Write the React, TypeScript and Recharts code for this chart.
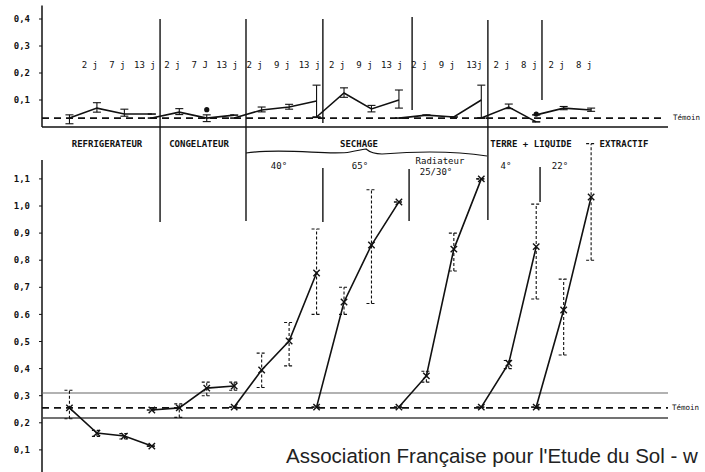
import { ComposedChart, Line, XAxis, YAxis, ReferenceLine, ErrorBar, Scatter } from 'recharts'

// measurement slot of each point (one slot = one sampling date)
const refSlots = [0, 1, 2, 3]
const congSlots = [3, 4, 5, 6]
const dry40Slots = [6, 7, 8, 9]
const dry65Slots = [9, 10, 11, 12]
const radSlots = [12, 13, 14, 15]
const liq4Slots = [15, 16, 17]
const liq22Slots = [17, 18, 19]

// upper panel values
const topRef = [0.033, 0.07, 0.048, 0.048]
const topCong = [0.033, 0.055, 0.033, 0.044]
const top40 = [0.033, 0.063, 0.074, 0.096]
const top65 = [0.037, 0.126, 0.067, 0.1]
const topRad = [0.033, 0.044, 0.037, 0.1]
const top4 = [0.033, 0.074, 0.019]
const top22 = [0.045, 0.07, 0.063]

// upper panel whiskers [low, high]
const topRefBars = [[0.012, 0.045], [0.055, 0.09], [0.04, 0.066], null]
const topCongBars = [null, [0.046, 0.068], [0.02, 0.045], null]
const top40Bars = [null, [0.056, 0.074], [0.066, 0.084], [0.035, 0.155]]
const top65Bars = [null, [0.11, 0.145], [0.056, 0.08], [0.07, 0.137]]
const topRadBars = [null, null, null, [0.033, 0.155]]
const top4Bars = [null, [0.068, 0.085], null]
const top22Bars = [null, [0.064, 0.076], [0.058, 0.07]]

// isolated circled points in upper panel
const topCircles = [{ x: 5, y: 0.064 }, { x: 17, y: 0.048 }]

// lower panel values
const botRef = [0.255, 0.162, 0.151, 0.114]
const botCong = [0.247, 0.255, 0.328, 0.336]
const bot40 = [0.258, 0.395, 0.502, 0.753]
const bot65 = [0.258, 0.646, 0.856, 1.015]
const botRad = [0.258, 0.373, 0.841, 1.1]
const bot4 = [0.258, 0.42, 0.85]
const bot22 = [0.258, 0.616, 1.033]

const botRefBars = [[0.215, 0.32], [0.15, 0.172], [0.14, 0.16], null]
const botCongBars = [null, [0.22, 0.27], [0.3, 0.35], [0.32, 0.35]]
const bot40Bars = [null, [0.33, 0.457], [0.41, 0.57], [0.6, 0.915]]
const bot65Bars = [null, [0.6, 0.7], [0.64, 1.06], null]
const botRadBars = [null, [0.35, 0.39], [0.76, 0.9], null]
const bot4Bars = [null, [0.4, 0.43], [0.657, 1.007]]
const bot22Bars = [null, [0.45, 0.73], [0.8, 1.23]]

const topTicks = [0.1, 0.2, 0.3, 0.4]
const botTicks = [0.1, 0.2, 0.3, 0.4, 0.5, 0.6, 0.7, 0.8, 0.9, 1.0, 1.1]

const dayLabels = ['2 j', '7 j', '13 j', '2 j', '7 J', '13 j', '2 j', '9 j', '13 j', '2 j', '9 j', '13 j', '2 j', '9 j', '13j', '2 j', '8 j', '2 j', '8 j']

// control band (lower panel)
const temoinTop = 0.033
const temoinBot = 0.255
const bandHigh = 0.31
const bandLow = 0.218

// separators between treatments [slot, yFrom, yTo] in upper-panel units
const dividers = [
  [3.3, 0.4, -0.352],
  [6.43, 0.4, -0.348],
  [9.23, 0.4, 0.015],
  [9.23, -0.152, -0.352],
  [12.48, 0.407, 0.063],
  [12.37, -0.156, -0.348],
  [15.24, 0.396, -0.344],
  [17.21, 0.396, 0.1],
  [17.14, -0.148, -0.278],
]

const makeSeries = (slots: number[], vals: number[], bars: (number[] | null)[]) =>
  slots.map((x, i) => {
    const b = bars[i]
    return { x, y: vals[i], err: b ? [vals[i] - b[0], b[1] - vals[i]] : [0, 0] }
  })

const topSeries = [
  makeSeries(refSlots, topRef, topRefBars),
  makeSeries(congSlots, topCong, topCongBars),
  makeSeries(dry40Slots, top40, top40Bars),
  makeSeries(dry65Slots, top65, top65Bars),
  makeSeries(radSlots, topRad, topRadBars),
  makeSeries(liq4Slots, top4, top4Bars),
  makeSeries(liq22Slots, top22, top22Bars),
]

const botSeries = [
  makeSeries(refSlots, botRef, botRefBars),
  makeSeries(congSlots, botCong, botCongBars),
  makeSeries(dry40Slots, bot40, bot40Bars),
  makeSeries(dry65Slots, bot65, bot65Bars),
  makeSeries(radSlots, botRad, botRadBars),
  makeSeries(liq4Slots, bot4, bot4Bars),
  makeSeries(liq22Slots, bot22, bot22Bars),
]

const INK = '#111'
const MONO = "'DejaVu Sans Mono', monospace"
const X_DOMAIN: [number, number] = [-1, 21.8]

// slot -> page x, same scale as the charts (for text only)
const px = (slot: number) => 42 + (slot + 1) * (626 / 22.8)

const frTick = (v: number) => (v === 0.6 ? '0.6' : v.toFixed(1).replace('.', ','))

const CrossDot = (p: any) => {
  const { cx, cy, index } = p
  if (cx == null || cy == null) return <g key={`n-${index}`} />
  const s = 3.2
  return (
    <g key={`c-${index}`}>
      <line x1={cx - s} y1={cy - s} x2={cx + s} y2={cy + s} stroke={INK} strokeWidth={1.4} />
      <line x1={cx - s} y1={cy + s} x2={cx + s} y2={cy - s} stroke={INK} strokeWidth={1.4} />
    </g>
  )
}

const Txt = ({ x, y, size = 9, children, family = MONO, weight = 'bold' }: any) => (
  <div
    style={{
      position: 'absolute',
      left: x,
      top: y,
      transform: 'translate(-50%, -50%)',
      fontSize: size,
      lineHeight: 1,
      fontFamily: family,
      fontWeight: weight,
      color: INK,
      whiteSpace: 'nowrap',
    }}
  >
    {children}
  </div>
)

const tickStyle = { fontSize: 9, fontFamily: MONO, fontWeight: 'bold', fill: INK }

export default function App() {
  return (
    <div
      style={{
        position: 'absolute',
        left: 0,
        top: 0,
        width: 705,
        height: 472,
        overflow: 'hidden',
        background: '#fff',
      }}
    >
      {/* lower panel */}
      <div style={{ position: 'absolute', left: 0, top: 0 }}>
        <ComposedChart width={705} height={480} margin={{ top: 124.7, right: 37, bottom: 3, left: 0 }}>
          <XAxis type="number" dataKey="x" domain={X_DOMAIN} allowDataOverflow hide />
          <YAxis
            type="number"
            dataKey="y"
            width={42}
            domain={[0, 1.3]}
            allowDataOverflow
            ticks={botTicks}
            tickFormatter={frTick}
            axisLine={false}
            tickLine={{ stroke: INK }}
            tickSize={3}
            tickMargin={9}
            tick={tickStyle}
          />
          <ReferenceLine segment={[{ x: -1, y: 0 }, { x: -1, y: 1.17 }]} stroke={INK} strokeWidth={1.5} ifOverflow="visible" />
          <ReferenceLine segment={[{ x: -1, y: bandHigh }, { x: 21.8, y: bandHigh }]} stroke="#666" strokeWidth={1.2} ifOverflow="visible" />
          <ReferenceLine segment={[{ x: -1, y: bandLow }, { x: 21.8, y: bandLow }]} stroke="#444" strokeWidth={1.5} ifOverflow="visible" />
          <ReferenceLine segment={[{ x: -1, y: temoinBot }, { x: 21.8, y: temoinBot }]} stroke={INK} strokeWidth={1.7} strokeDasharray="7 5" ifOverflow="visible" />
          {botSeries.map((d, i) => (
            <Line
              key={`b${i}`}
              data={d}
              dataKey="y"
              type="linear"
              stroke={INK}
              strokeWidth={1.6}
              dot={CrossDot}
              activeDot={false}
              isAnimationActive={false}
            >
              <ErrorBar dataKey="err" direction="y" width={5} stroke={INK} strokeWidth={1.1} strokeDasharray="3 2" />
            </Line>
          ))}
        </ComposedChart>
      </div>

      {/* upper panel */}
      <div style={{ position: 'absolute', left: 0, top: 0 }}>
        <ComposedChart width={705} height={240} margin={{ top: 5.5, right: 37, bottom: 10.4, left: 0 }}>
          <XAxis type="number" dataKey="x" domain={X_DOMAIN} allowDataOverflow hide />
          <YAxis
            type="number"
            dataKey="y"
            width={42}
            domain={[-0.38, 0.45]}
            allowDataOverflow
            ticks={topTicks}
            tickFormatter={frTick}
            axisLine={false}
            tickLine={{ stroke: INK }}
            tickSize={3}
            tickMargin={9}
            tick={tickStyle}
          />
          <ReferenceLine segment={[{ x: -1, y: 0 }, { x: -1, y: 0.45 }]} stroke={INK} strokeWidth={1.5} ifOverflow="visible" />
          <ReferenceLine segment={[{ x: -1, y: 0 }, { x: 21.8, y: 0 }]} stroke={INK} strokeWidth={1.6} ifOverflow="visible" />
          <ReferenceLine segment={[{ x: -1, y: temoinTop }, { x: 21.7, y: temoinTop }]} stroke={INK} strokeWidth={1.6} strokeDasharray="7 5" ifOverflow="visible" />
          {dividers.map(([x, y1, y2], i) => (
            <ReferenceLine key={`d${i}`} segment={[{ x, y: y1 }, { x, y: y2 }]} stroke={INK} strokeWidth={1.4} ifOverflow="visible" />
          ))}
          {topSeries.map((d, i) => (
            <Line
              key={`t${i}`}
              data={d}
              dataKey="y"
              type="linear"
              stroke={INK}
              strokeWidth={1.6}
              dot={false}
              activeDot={false}
              isAnimationActive={false}
            >
              <ErrorBar dataKey="err" direction="y" width={4} stroke={INK} strokeWidth={1.1} />
            </Line>
          ))}
          <Scatter
            data={topCircles}
            dataKey="y"
            isAnimationActive={false}
            shape={(p: any) => <circle cx={p.cx} cy={p.cy} r={2.6} fill={INK} />}
          />
        </ComposedChart>
      </div>

      {/* sampling days */}
      {dayLabels.map((t, i) => (
        <Txt key={`l${i}`} x={px(i + 1) - 7} y={65} size={9} weight="normal">
          {t}
        </Txt>
      ))}

      {/* treatment band */}
      <Txt x={107} y={144}>REFRIGERATEUR</Txt>
      <Txt x={199} y={144}>CONGELATEUR</Txt>
      <Txt x={359} y={144}>SECHAGE</Txt>
      <Txt x={531} y={144}>TERRE + LIQUIDE</Txt>
      <Txt x={624} y={144}>EXTRACTIF</Txt>
      <svg style={{ position: 'absolute', left: 0, top: 0 }} width={705} height={200}>
        <path
          d="M246 153 C 285 147, 330 156, 350 152 Q 360 150, 366 149 Q 372 154, 382 154 C 420 151, 455 151, 487 156"
          fill="none"
          stroke={INK}
          strokeWidth={1.2}
        />
      </svg>
      <Txt x={279} y={166} weight="normal">40°</Txt>
      <Txt x={360} y={166} weight="normal">65°</Txt>
      <Txt x={440} y={161} weight="normal">Radiateur</Txt>
      <Txt x={436} y={172} weight="normal">25/30°</Txt>
      <Txt x={506} y={166} weight="normal">4°</Txt>
      <Txt x={560} y={166} weight="normal">22°</Txt>

      <div style={{ position: 'absolute', left: 673, top: 114, fontSize: 7.5, fontFamily: MONO, color: INK, whiteSpace: 'nowrap', lineHeight: 1 }}>
        Témoin
      </div>
      <div style={{ position: 'absolute', left: 672, top: 404, fontSize: 7.5, fontFamily: MONO, color: INK, whiteSpace: 'nowrap', lineHeight: 1 }}>
        Témoin
      </div>

      <div
        style={{
          position: 'absolute',
          left: 286,
          top: 445,
          fontSize: 20.5,
          lineHeight: '21px',
          fontFamily: "'Liberation Sans', Arial, sans-serif",
          color: '#222',
          whiteSpace: 'nowrap',
        }}
      >
        Association Française pour l'Etude du Sol - w
      </div>
    </div>
  )
}
